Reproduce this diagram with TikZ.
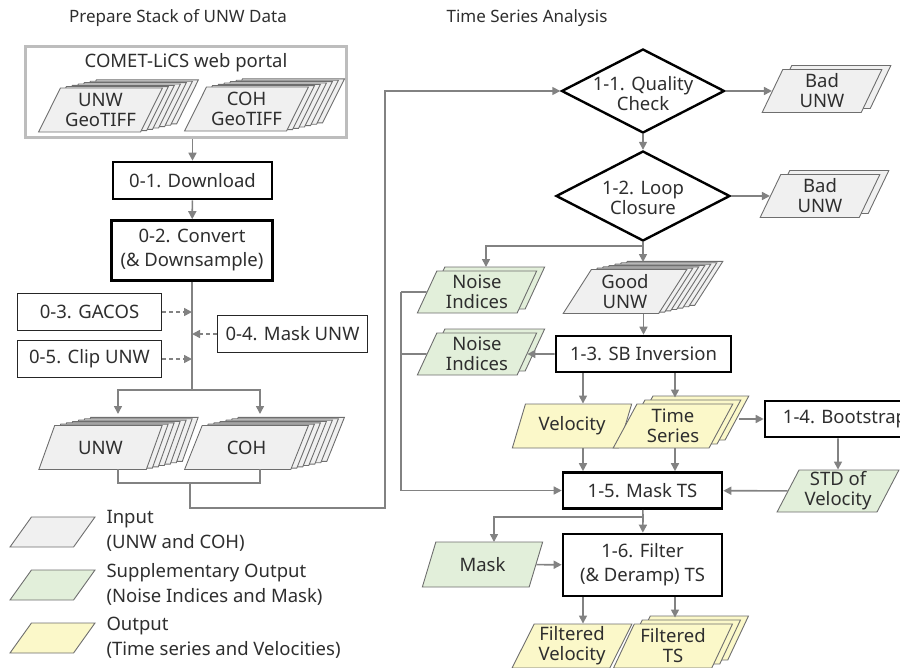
\documentclass[tikz,border=0pt]{standalone}
\usepackage{fontspec}
\setmainfont{Noto Sans}
\usetikzlibrary{shapes.geometric, shadows, arrows.meta, calc}

\definecolor{inbg}{HTML}{F0F0F0}
\definecolor{supbg}{HTML}{E2EFDA}
\definecolor{outbg}{HTML}{FBF8C9}
\definecolor{edge}{HTML}{6E6E6E}
\definecolor{wire}{HTML}{828282}
\definecolor{frame}{HTML}{BDBDBD}

\tikzset{
  every node/.style={font=\fontsize{18.5}{20}\selectfont, text=black!82},
  title/.style={font=\fontsize{17}{20}\selectfont},
  proc/.style={draw=black, line width=2.6pt, fill=white, align=center, inner sep=0pt,
    font=\fontsize{18.5}{24}\selectfont},
  opt/.style={draw=black!85, line width=1.3pt, fill=white, inner sep=0pt,
    minimum width=144pt, minimum height=37pt},
  check/.style={diamond, draw=black, line width=2.4pt, fill=white, inner sep=0pt},
  data/.style={trapezium, trapezium left angle=#1, trapezium right angle={180-#1},
    trapezium stretches=true, draw=edge, line width=0.9pt, align=center, inner sep=0pt,
    minimum width=124pt, minimum height=44pt},
  data/.default=60,
  keyshape/.style={data=63, inner sep=2pt, minimum width=85pt, minimum height=30pt},
  sheet/.style n args={3}{general shadow={shadow xshift=#1pt, shadow yshift=#2pt,
    fill=#3, draw=edge, line width=0.9pt}},
  gpile/.style={sheet={36}{8.1}{inbg}, sheet={30}{6.75}{inbg}, sheet={24}{5.4}{inbg},
    sheet={18}{4.05}{inbg}, sheet={12}{2.7}{inbg}, sheet={6}{1.35}{inbg}},
  ypile/.style={sheet={16}{8}{outbg}, sheet={8}{4}{outbg}},
  npile/.style={sheet={8}{4}{supbg}},
  bpile/.style={sheet={9}{4}{inbg}},
  wire/.style={draw=wire, line width=1.6pt},
  arr/.style={wire, -{Triangle[length=8pt,width=8pt]}},
  dasharr/.style={arr, dash pattern=on 4pt off 3pt},
  keytext/.style={anchor=west, align=left, font=\fontsize{18.5}{25}\selectfont},
}

\begin{document}
\begin{tikzpicture}[x=1pt, y=-1pt]
    \useasboundingbox (0,0) rectangle (900,667);
    \clip (0,0) rectangle (900,667);

    % Titles
    \node[title] (prep) at (178,18) {Prepare Stack of UNW Data};
    \node[title] (tsa) at (527,18) {Time Series Analysis};

    % Stack preparation
    \node[draw=frame, line width=3pt, minimum width=321pt, minimum height=91pt] (portal) at (186,92) {};
    \node (web) at (186,63) {COMET-LiCS web portal};
    \node[data, gpile, fill=inbg] (unwtif) at (100.5,110) {UNW\\GeoTIFF};
    \node[data, gpile, fill=inbg] (cohtif) at (246.5,109) {COH\\GeoTIFF};

    \node[proc, minimum width=159pt, minimum height=37pt] (dl) at (192.5,180.5) {0-1. Download};
    \node[proc, minimum width=161pt, minimum height=60pt] (cv) at (192,250.5) {0-2. Convert\\(\& Downsample)};
    \node[opt] (gacos) at (89.5,312) {0-3. GACOS};
    \node[opt] (clip) at (89.5,359) {0-5. Clip UNW};
    \node[opt, minimum width=150pt] (mskunw) at (292.5,334) {0-4. Mask UNW};

    \node[data, gpile, fill=inbg] (unw) at (100.5,447.5) {UNW};
    \node[data, gpile, fill=inbg] (coh) at (246.5,447.5) {COH};

    \coordinate (split) at (192,390);
    \coordinate (unwin) at (118,414);
    \coordinate (cohin) at (260,414);
    \coordinate (unwtail) at (118,469);
    \coordinate (cohtail) at (260,469);
    \coordinate (merge) at (190,483);
    \coordinate (turn) at (385,508);

    \draw[arr] (portal.south -| dl) -- (dl);
    \draw[arr] (dl) -- (cv);
    \draw[wire] (cv) -- (split);
    \draw[dasharr] (gacos) -- (gacos -| cv);
    \draw[dasharr] (clip) -- (clip -| cv);
    \draw[dasharr] (mskunw) -- (mskunw -| cv);
    \draw[arr] (split) -| (unwin);
    \draw[arr] (split) -| (cohin);
    \draw[wire] (unwtail) -- (unwtail |- merge) -- (cohtail |- merge) -- (cohtail);

    % Legend
    \node[keyshape, fill=inbg] (kin) at (52.5,532) {};
    \node[keyshape, fill=supbg] (ksup) at (52.5,585) {};
    \node[keyshape, fill=outbg] (kout) at (52.5,638) {};
    \node[keytext] (kintxt) at (103,531) {Input\\(UNW and COH)};
    \node[keytext] (ksuptxt) at (103,584) {Supplementary Output\\(Noise Indices and Mask)};
    \node[keytext] (kouttxt) at (103,638) {Output\\(Time series and Velocities)};

    % Time series analysis
    \node[check, minimum width=163pt, minimum height=84pt,
      label={[align=center, yshift=-3pt]center:1-1. Quality\\Check}] (qc) at (643,91) {};
    \node[check, minimum width=174pt, minimum height=90pt,
      label={[align=center, yshift=-2pt]center:1-2. Loop\\Closure}] (lc) at (643,196) {};
    \node[data=71, bpile, fill=inbg, minimum width=120pt, minimum height=43pt] (bad1) at (822,91) {Bad\\UNW};
    \node[data=71, bpile, fill=inbg, minimum width=120pt, minimum height=43pt] (bad2) at (820,196) {Bad\\UNW};

    \node[data=66, npile, fill=supbg, minimum width=120pt, minimum height=42pt] (noise1) at (477,292) {Noise\\Indices};
    \node[data, gpile, fill=inbg] (good) at (625,291.5) {Good\\UNW};
    \node[proc, minimum width=175pt, minimum height=36pt] (sb) at (643.5,354) {1-3. SB Inversion};
    \node[data=66, npile, fill=supbg, minimum width=120pt, minimum height=42pt] (noise2) at (477,354) {Noise\\Indices};

    \node[data=63, fill=outbg, minimum width=120pt] (vel) at (572,426) {Velocity};
    \node[data=63, ypile, fill=outbg, minimum width=120pt] (ts) at (673,426) {Time\\Series};
    \node[proc, minimum width=160pt, minimum height=36pt] (boot) at (845,419) {1-4. Bootstrap};
    \node[data=64, fill=supbg, minimum width=122pt, minimum height=42pt] (std) at (838,491) {STD of\\Velocity};

    \node[proc, minimum width=159pt, minimum height=36pt] (mts) at (642.5,490.5) {1-5. Mask TS};
    \node[data=65, fill=supbg, minimum width=121pt, minimum height=45pt] (mask) at (482.5,564.5) {Mask};
    \node[proc, minimum width=159pt, minimum height=62pt] (flt) at (642.5,565) {1-6. Filter\\(\& Deramp) TS};
    \node[data=63, fill=outbg, minimum width=120pt] (fvel) at (572,646) {Filtered\\Velocity};
    \node[data=63, ypile, fill=outbg, minimum width=120pt] (fts) at (673,646) {Filtered\\TS};

    \coordinate (c1) at (583,0);
    \coordinate (c2) at (675,0);
    \coordinate (fork) at (643,246);
    \coordinate (goodin) at (643,262);
    \coordinate (noisein) at (486,267);
    \coordinate (bus) at (401,292);
    \coordinate (tsout) at (739,419);
    \coordinate (mfork) at (643,517);
    \coordinate (maskin) at (494,542);

    \draw[arr] (merge) |- (turn) |- (qc.west);
    \draw[arr] (qc) -- (bad1);
    \draw[arr] (qc) -- (lc);
    \draw[arr] (lc) -- (bad2);
    \draw[wire] (lc.south) -- (fork);
    \draw[arr] (fork) -- (goodin);
    \draw[arr] (fork) -| (noisein);
    \draw[arr] (sb.north |- good.south) -- (sb);
    \draw[arr] (sb) -- (noise2);
    \draw[wire] (noise1) -- (noise1 -| bus);
    \draw[wire] (noise2) -- (noise2 -| bus);
    \draw[arr] (noise1 -| bus) |- (mts.west);
    \draw[arr] (sb.south -| c1) -- (vel.north -| c1);
    \draw[arr, shorten >=6pt] (sb.south -| c2) -- (ts.north -| c2);
    \draw[arr] (tsout) -- (boot);
    \draw[arr] (boot.south -| std) -- (std);
    \draw[arr] (vel.south -| c1) -- (mts.north -| c1);
    \draw[arr] (ts.south -| c2) -- (mts.north -| c2);
    \draw[arr] (std) -- (mts);
    \draw[wire] (mts) -- (mfork);
    \draw[arr] (mfork) -- (flt);
    \draw[arr] (mfork) -| (maskin);
    \draw[arr] (mask) -- (flt);
    \draw[arr] (flt.south -| c1) -- (fvel.north -| c1);
    \draw[arr, shorten >=6pt] (flt.south -| c2) -- (fts.north -| c2);
\end{tikzpicture}
\end{document}
